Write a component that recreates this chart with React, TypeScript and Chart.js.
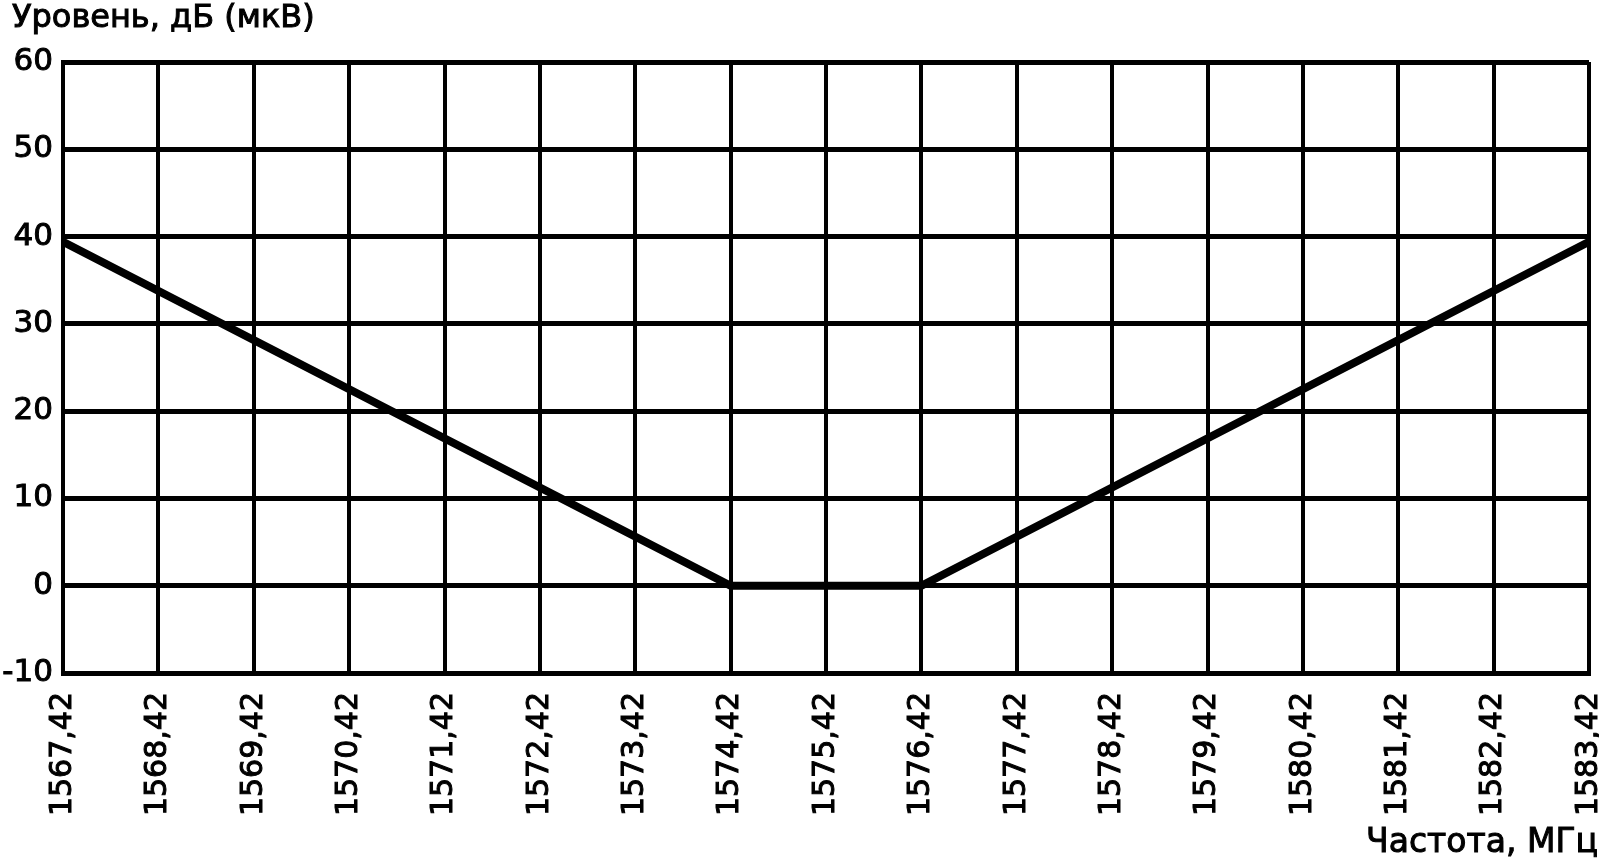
import React, { useEffect, useRef } from "react";
import { Chart, registerables } from "chart.js";

Chart.register(...registerables);

// Frequency tick positions (MHz) and their labels
const freqTicks: number[] = [
  1567.42, 1568.42, 1569.42, 1570.42, 1571.42, 1572.42, 1573.42, 1574.42,
  1575.42, 1576.42, 1577.42, 1578.42, 1579.42, 1580.42, 1581.42, 1582.42, 1583.42,
];
const freqTickLabels: string[] = freqTicks.map((v) => v.toFixed(2).replace(".", ","));

// Level curve (mask) points
const maskFreq: number[] = [1567.42, 1574.42, 1576.42, 1583.42];
const maskLevel: number[] = [39.4, 0, 0, 39.4];

// Y ticks
const levelTicks: number[] = [-10, 0, 10, 20, 30, 40, 50, 60];

const yTitle = "Уровень, дБ (мкВ)";
const xTitle = "Частота, МГц";

const FONT = "'DejaVu Sans', sans-serif";

export default function App() {
  const canvasRef = useRef<HTMLCanvasElement | null>(null);

  useEffect(() => {
    const canvas = canvasRef.current;
    if (!canvas) return;

    const titlesPlugin = {
      id: "titlesPlugin",
      afterDraw(chart: any) {
        const ctx = chart.ctx as CanvasRenderingContext2D;
        ctx.save();
        ctx.fillStyle = "#000";
        ctx.strokeStyle = "#000";
        ctx.lineWidth = 1;
        ctx.font = `32px ${FONT}`;
        ctx.textBaseline = "alphabetic";
        ctx.textAlign = "left";
        ctx.fillText(yTitle, 12, 27);
        ctx.strokeText(yTitle, 12, 27);
        ctx.font = `33px ${FONT}`;
        ctx.textAlign = "right";
        ctx.fillText(xTitle, 1598, 852);
        ctx.strokeText(xTitle, 1598, 852);
        ctx.restore();
      },
    };

    const chart = new Chart(canvas, {
      type: "line",
      data: {
        datasets: [
          {
            data: maskFreq.map((x, i) => ({ x, y: maskLevel[i] })),
            borderColor: "#000",
            backgroundColor: "#000",
            borderWidth: 8,
            pointRadius: 0,
            pointHoverRadius: 0,
            tension: 0,
            borderJoinStyle: "miter",
            borderCapStyle: "butt",
            fill: false,
          },
        ],
      },
      options: {
        animation: false,
        responsive: true,
        maintainAspectRatio: false,
        layout: { padding: { left: 0, top: 62, right: 10, bottom: 0 } },
        plugins: {
          legend: { display: false },
          tooltip: { enabled: false },
          title: { display: false },
        },
        scales: {
          x: {
            type: "linear",
            min: freqTicks[0],
            max: freqTicks[freqTicks.length - 1],
            afterBuildTicks: (scale: any) => {
              scale.ticks = freqTicks.map((v) => ({ value: v }));
            },
            afterFit: (scale: any) => {
              scale.height = 193;
              scale.paddingLeft = 0;
              scale.paddingRight = 0;
            },
            grid: {
              color: "#000",
              lineWidth: 4,
              drawTicks: false,
            },
            border: { display: true, color: "#000", width: 5 },
            ticks: {
              autoSkip: false,
              minRotation: 90,
              maxRotation: 90,
              padding: 19,
              color: "#000",
              textStrokeColor: "#000",
              textStrokeWidth: 1,
              font: { family: FONT, size: 30 },
              callback: (value: any) => {
                const idx = freqTicks.findIndex((t) => Math.abs(t - Number(value)) < 1e-6);
                return idx >= 0 ? freqTickLabels[idx] : "";
              },
            },
          },
          y: {
            type: "linear",
            min: levelTicks[0],
            max: levelTicks[levelTicks.length - 1],
            afterBuildTicks: (scale: any) => {
              scale.ticks = levelTicks.map((v) => ({ value: v }));
            },
            afterFit: (scale: any) => {
              scale.width = 63;
              scale.paddingTop = 0;
              scale.paddingBottom = 0;
            },
            grid: {
              color: "#000",
              lineWidth: 5,
              drawTicks: false,
            },
            border: { display: true, color: "#000", width: 4 },
            ticks: {
              padding: 10,
              color: "#000",
              textStrokeColor: "#000",
              textStrokeWidth: 1,
              font: { family: FONT, size: 31 },
              callback: (value: any) => String(value),
            },
          },
        },
      },
      plugins: [titlesPlugin],
    } as any);

    return () => {
      chart.destroy();
    };
  }, []);

  return (
    <div
      style={{
        position: "absolute",
        left: 0,
        top: 0,
        width: "1599px",
        height: "866px",
        background: "#fff",
      }}
    >
      <canvas ref={canvasRef} />
    </div>
  );
}
